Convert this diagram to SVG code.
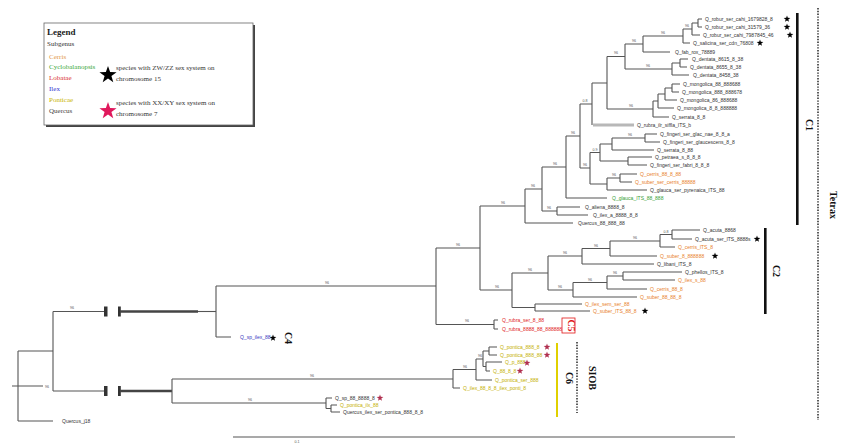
<svg xmlns="http://www.w3.org/2000/svg" width="841" height="446" viewBox="0 0 841 446">
<style>
.br{fill:none;stroke:#555;stroke-width:1.1}
.th{fill:none;stroke:#444;stroke-width:2.6}
.lb{font-family:"Liberation Sans",Arial,sans-serif;font-size:5px;fill:#333}
.bs{font-family:"Liberation Sans",Arial,sans-serif;font-size:3.6px;fill:#555;text-anchor:middle}
.or{fill:#e8802a}.gr{fill:#35a035}.rd{fill:#e01818}.pu{fill:#3838c0}.ye{fill:#c4b000}
.lg{font-family:"Liberation Serif","Times New Roman",serif;font-size:7px;fill:#333}
.cl{font-family:"Liberation Serif","Times New Roman",serif;font-size:10px;font-weight:bold;fill:#111;text-anchor:middle}
.bar{fill:#111}
.dash{fill:none;stroke:#333;stroke-width:1.6;stroke-dasharray:1.4 1.4}
</style>
<defs>
<polygon id="star" points="0,-5 1.18,-1.62 4.76,-1.55 1.9,0.62 2.94,4.05 0,2 -2.94,4.05 -1.9,0.62 -4.76,-1.55 -1.18,-1.62"/>
</defs>
<rect width="841" height="446" fill="#fff"/>

<g id="legend">
<rect x="46" y="25" width="209" height="102" fill="#444"/>
<rect x="44" y="23" width="209" height="102" fill="#fff" stroke="#666" stroke-width="0.8"/>
<text x="47" y="35" font-family="Liberation Serif,serif" font-size="9" font-weight="bold" fill="#222">Legend</text>
<text x="47" y="46" class="lg" font-size="6">Subgenus</text>
<text x="49" y="59" class="lg" style="fill:#e39a4a">Cerris</text>
<text x="49" y="69" class="lg" style="fill:#3aa83a">Cyclobalanopsis</text>
<text x="49" y="80" class="lg" style="fill:#d83030">Lobatae</text>
<text x="49" y="91" class="lg" style="fill:#3232d0">Ilex</text>
<text x="49" y="102" class="lg" style="fill:#c8b400">Ponticae</text>
<text x="49" y="113" class="lg" style="fill:#444">Quercus</text>
<use href="#star" transform="translate(108,75) scale(1.8)" fill="#000"/>
<text x="116" y="70" class="lg" font-size="6.4">species with ZW/ZZ sex system on</text>
<text x="116" y="81" class="lg" font-size="6.4">chromosome 15</text>
<use href="#star" transform="translate(108,111) scale(1.8)" fill="#e0185c"/>
<text x="116" y="105" class="lg" font-size="6.4">species with XX/XY sex system on</text>
<text x="116" y="116" class="lg" font-size="6.4">chromosome 7</text>
</g>

<g id="connectors">
<path class="br" d="M12,386H43M18,351V421M18,351H53M18,421H53"/>
<path class="br" d="M53,311.5V391M53,311.5H104M53,391H104"/>
<rect x="104" y="306.5" width="3.5" height="10" fill="#333"/>
<rect x="118" y="306.5" width="2.8" height="10" fill="#333"/>
<rect x="104" y="386" width="3.5" height="10" fill="#333"/>
<rect x="118" y="386" width="2.8" height="10" fill="#333"/>
<path class="th" d="M120,311.5H198M120,391H172"/>
<path class="br" stroke-width="1.6" d="M198,311.5H216"/>
<path class="br" d="M216,286V337M216,286H436M216,337H231"/>
<path class="br" d="M436,248V324.5M436,248H480M436,324.5H494"/>
<path class="br" d="M494,320V329M494,320H498M494,329H498"/>
<path class="br" d="M480,206V290M480,206H525M480,290H512"/>
<path class="br" d="M525,189V223M525,189H542M525,223H573"/>
<path class="br" d="M542,167V211M542,167H566M542,211H557"/>
<path class="br" d="M557,207V215M557,207H580M557,215H588"/>
<path class="br" d="M566,136V198M566,136H580M566,198H607"/>
<path class="br" d="M580,104V168M580,104H592M580,168H590"/>
<path class="br" d="M592,83V125M592,83H607"/>
<path fill="none" stroke="#b8b8b8" stroke-width="3" d="M593,125H634"/>
<path class="br" d="M607,56.5V109M607,56.5H625M607,109H653"/>
<path class="br" d="M625,44V69M625,44H643M625,69H672"/>
<path class="br" d="M643,36V52M643,36H683M643,52H670"/>
<path class="br" d="M683,29V43M683,29H692M683,43H690"/>
<path class="br" d="M692,23V35M692,23H698M692,35H700"/>
<path class="br" d="M698,19V27M698,19H702M698,27H702"/>
<path class="br" d="M672,63V75M672,63H680M672,75H689"/>
<path class="br" d="M680,59V67M680,59H688M680,67H687"/>
<path class="br" d="M653,101V117M653,101H658M653,117H669"/>
<path class="br" d="M658,94V108M658,94H665M658,108H674"/>
<path class="br" d="M665,88V100M665,88H672M665,100H677"/>
<path class="br" d="M672,84V92M672,84H680M672,92H679"/>
<path class="br" d="M590,152.5V184M590,152.5H600M590,184H607"/>
<path class="br" d="M600,144V161M600,144H612M600,161H628"/>
<path class="br" d="M612,138V150M612,138H645M612,150H654"/>
<path class="br" d="M645,134V142M645,134H657M645,142H660"/>
<path class="br" d="M628,157V165M628,157H652M628,165H647"/>
<path class="br" d="M607,178V190M607,178H620M607,190H647"/>
<path class="br" d="M620,174V182M620,174H637M620,182H632"/>
<path class="br" d="M512,273V307.5M512,273H548M512,307.5H535"/>
<path class="br" d="M548,256V290M548,256H582M548,290H573"/>
<path class="br" d="M582,248.5V264M582,248.5H610M582,264H654"/>
<path class="br" d="M610,241V256M610,241H660M610,256H657"/>
<path class="br" d="M660,234.5V247M660,234.5H672M660,247H675"/>
<path class="br" d="M672,230V239M672,230H700M672,239H692"/>
<path class="br" d="M573,282.5V297M573,282.5H607M573,297H637"/>
<path class="br" d="M607,276V289M607,276H623M607,289H647"/>
<path class="br" d="M623,272V280M623,272H682M623,280H675"/>
<path class="br" d="M535,304V311M535,304H582M535,311H590"/>
<path class="br" d="M172,379V403M172,379H453M172,403H326"/>
<path class="br" d="M326,398V408.5M326,398H332M326,408.5H331"/>
<path class="br" d="M331,405V412M331,405H337M331,412H340"/>
<path class="br" d="M453,369.5V388M453,369.5H476M453,388H460"/>
<path class="br" d="M476,359V380M476,359H483M476,380H492"/>
<path class="br" d="M483,351V366.5M483,351H489M483,366.5H486"/>
<path class="br" d="M489,347V355M489,347H497M489,355H497"/>
<path class="br" d="M486,362V371M486,362H502M486,371H490"/>
<path class="br" stroke-width="1.3" d="M233,437H735"/>
</g>

<g id="support">
<text class="bs" x="47" y="388">96</text>
<text class="bs" x="72" y="309">96</text>
<text class="bs" x="327" y="284">96</text>
<text class="bs" x="458" y="246">96</text>
<text class="bs" x="467" y="322">96</text>
<text class="bs" x="503" y="204">96</text>
<text class="bs" x="497" y="288">96</text>
<text class="bs" x="533" y="187">96</text>
<text class="bs" x="555" y="165">96</text>
<text class="bs" x="549" y="209">96</text>
<text class="bs" x="573" y="134">96</text>
<text class="bs" x="585" y="102">0.8</text>
<text class="bs" x="616" y="54">96</text>
<text class="bs" x="631" y="107">96</text>
<text class="bs" x="634" y="42">96</text>
<text class="bs" x="648" y="67">96</text>
<text class="bs" x="663" y="34">96</text>
<text class="bs" x="687" y="27">96</text>
<text class="bs" x="585" y="166">96</text>
<text class="bs" x="595" y="151">0.9</text>
<text class="bs" x="630" y="136">96</text>
<text class="bs" x="614" y="176">96</text>
<text class="bs" x="530" y="271">96</text>
<text class="bs" x="565" y="254">96</text>
<text class="bs" x="596" y="247">96</text>
<text class="bs" x="635" y="239">96</text>
<text class="bs" x="666" y="233">0.8</text>
<text class="bs" x="560" y="288">96</text>
<text class="bs" x="590" y="281">96</text>
<text class="bs" x="615" y="274">96</text>
<text class="bs" x="312" y="377">96</text>
<text class="bs" x="250" y="401">96</text>
<text class="bs" x="465" y="368">96</text>
<text class="bs" x="480" y="357">96</text>
<text class="bs" x="297" y="443">0.1</text>
</g>

<g id="clade-C1-labels">
<text class="lb" x="705" y="21">Q_robur_ser_cahi_1679828_8</text>
<text class="lb" x="705" y="29">Q_robur_ser_cahi_31579_36</text>
<text class="lb" x="703" y="37">Q_robur_ser_cahi_7987845_46</text>
<text class="lb" x="693" y="45">Q_salicina_ser_cdn_76808</text>
<text class="lb" x="675" y="54">Q_fab_rox_78889</text>
<text class="lb" x="692" y="61">Q_dentata_8615_8_38</text>
<text class="lb" x="690" y="69">Q_dentata_8655_8_38</text>
<text class="lb" x="693" y="77">Q_dentata_8458_38</text>
<text class="lb" x="683" y="86">Q_mongolica_88_888688</text>
<text class="lb" x="682" y="94">Q_mongolica_888_888678</text>
<text class="lb" x="680" y="102">Q_mongolica_86_888688</text>
<text class="lb" x="677" y="110">Q_mongolica_8_8_888888</text>
<text class="lb" x="672" y="119">Q_serrata_8_8</text>
<text class="lb" x="637" y="127">Q_rubra_ilr_siffla_ITS_b</text>
<text class="lb" x="660" y="136">Q_fingeri_ser_glac_nae_8_8_a</text>
<text class="lb" x="663" y="144">Q_fingeri_ser_glaucescens_8_8</text>
<text class="lb" x="657" y="152">Q_serrata_8_88</text>
<text class="lb" x="655" y="159">Q_petraea_s_8_8_8</text>
<text class="lb" x="650" y="167">Q_fingeri_ser_fabri_8_8_8</text>
<text class="lb or" x="640" y="176">Q_cerris_88_8_88</text>
<text class="lb or" x="635" y="184">Q_suber_ser_cerris_88888</text>
<text class="lb" x="650" y="192">Q_glauca_ser_pyrenaica_ITS_88</text>
<text class="lb gr" x="612" y="200">Q_glauca_ITS_88_888</text>
<text class="lb" x="585" y="209">Q_aliena_8888_8</text>
<text class="lb" x="593" y="217">Q_ilex_a_8888_8_8</text>
<text class="lb" x="578" y="225">Quercus_88_888_88</text>
</g>

<g id="clade-C2-labels">
<text class="lb" x="703" y="232">Q_acuta_8868</text>
<text class="lb" x="695" y="241">Q_acuta_ser_ITS_8888s</text>
<text class="lb or" x="678" y="249">Q_cerris_ITS_8</text>
<text class="lb or" x="660" y="258">Q_suber_8_888888</text>
<text class="lb" x="657" y="266">Q_libani_ITS_8</text>
<text class="lb" x="685" y="274">Q_phellos_ITS_8</text>
<text class="lb or" x="678" y="282">Q_ilex_s_88</text>
<text class="lb or" x="650" y="291">Q_cerris_88_8</text>
<text class="lb or" x="640" y="299">Q_suber_88_88_8</text>
<text class="lb or" x="585" y="306">Q_ilex_sem_ser_88</text>
<text class="lb or" x="593" y="313">Q_suber_ITS_88_8</text>
</g>

<g id="clade-C5-labels">
<text class="lb rd" x="502" y="322">Q_rubra_ser_8_88</text>
<text class="lb rd" x="502" y="331">Q_rubra_8888_88_888888</text>
</g>

<g id="clade-C4-labels">
<text class="lb pu" x="240" y="339">Q_sp_ilex_88</text>
</g>

<g id="clade-C6-labels">
<text class="lb ye" x="500" y="349">Q_pontica_888_8</text>
<text class="lb ye" x="500" y="357">Q_pontica_888_88</text>
<text class="lb ye" x="505" y="364">Q_p_888</text>
<text class="lb ye" x="493" y="373">Q_88_8_8</text>
<text class="lb ye" x="495" y="382">Q_pontica_ser_888</text>
<text class="lb ye" x="463" y="390">Q_ilex_88_8_8_ilex_ponti_8</text>
<text class="lb" x="335" y="400">Q_sp_88_8888_8</text>
<text class="lb ye" x="340" y="407">Q_pontica_ilx_88</text>
<text class="lb" x="343" y="414">Quercus_ilex_ser_pontica_888_8_8</text>
</g>

<g id="outgroup">
<text class="lb" x="62" y="423">Quercus_j18</text>
</g>

<g id="markers">
<use href="#star" transform="translate(787,19) scale(0.7)" fill="#000"/>
<use href="#star" transform="translate(787,27) scale(0.7)" fill="#000"/>
<use href="#star" transform="translate(790,35) scale(0.7)" fill="#000"/>
<use href="#star" transform="translate(760,43) scale(0.7)" fill="#000"/>
<use href="#star" transform="translate(757,239) scale(0.7)" fill="#000"/>
<use href="#star" transform="translate(715,256) scale(0.7)" fill="#000"/>
<use href="#star" transform="translate(645,311) scale(0.7)" fill="#000"/>
<use href="#star" transform="translate(273,338) scale(0.7)" fill="#000"/>
<use href="#star" transform="translate(547,347) scale(0.7)" fill="#b03050"/>
<use href="#star" transform="translate(547,355) scale(0.7)" fill="#b03050"/>
<use href="#star" transform="translate(527,363) scale(0.7)" fill="#b03050"/>
<use href="#star" transform="translate(520,371) scale(0.7)" fill="#b03050"/>
<use href="#star" transform="translate(380,398) scale(0.7)" fill="#b03050"/>
</g>

<g id="clade-bars">
<rect class="bar" x="796" y="13" width="2.6" height="212"/>
<text class="cl" transform="rotate(90 806 125)" x="806" y="125">C1</text>
<rect class="bar" x="764" y="228" width="2.6" height="86"/>
<text class="cl" transform="rotate(90 773 271)" x="773" y="271">C2</text>
<text class="cl" transform="rotate(90 285 338)" x="285" y="338" font-size="11">C4</text>
<rect x="562" y="318" width="13" height="15" fill="#fff" stroke="#e01818" stroke-width="0.8"/>
<text class="cl" transform="rotate(90 568 325.5)" x="568" y="325.5" style="fill:#e01818">C5</text>
<rect x="556" y="343" width="2" height="74" fill="#e0d000"/>
<text class="cl" transform="rotate(90 566 378)" x="566" y="378">C6</text>
<path class="dash" d="M577,342V413"/>
<text class="cl" transform="rotate(90 589 378)" x="589" y="378" font-weight="normal">SIOB</text>
<path class="dash" d="M818,8V420"/>
<text class="cl" transform="rotate(90 830 205)" x="830" y="205" font-size="11" font-weight="normal">Tetrax</text>
</g>
</svg>
